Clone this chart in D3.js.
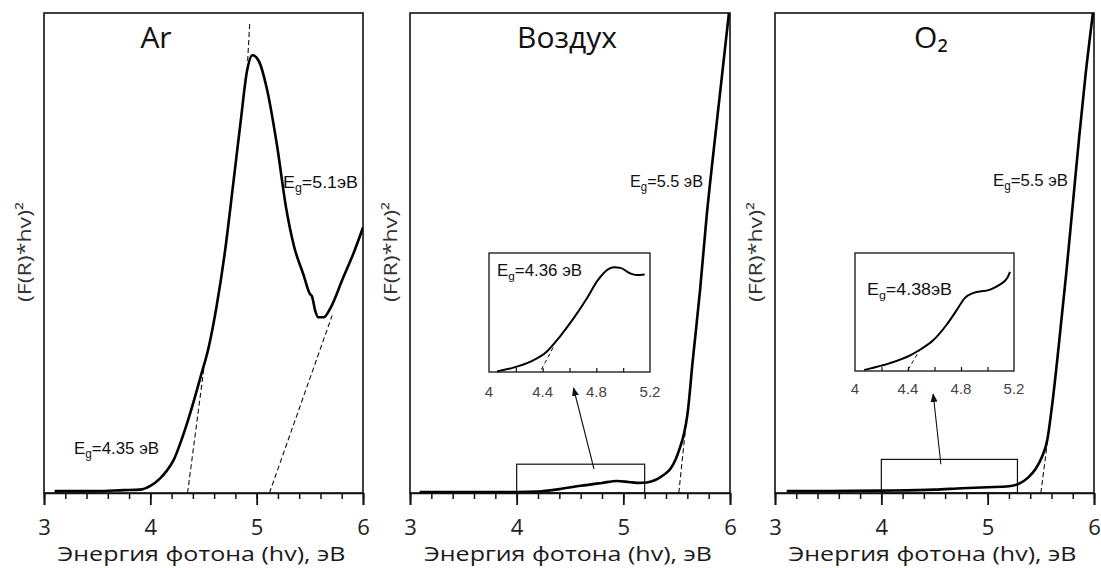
<!DOCTYPE html>
<html>
<head>
<meta charset="utf-8">
<script src="https://cdn.jsdelivr.net/npm/d3@7"></script>
<style>
body { margin: 0; background: #fff; }
svg { display: block; }
</style>
</head>
<body>
<div id="chart"></div>
<script>
// ---- data ----
const panelTitles = ['Ar', 'Воздух', 'O₂'];
const xTicks = [3, 4, 5, 6];
const xMinorTicks = d3.range(3, 6.001, 0.2);
const insetTicks = [4, 4.4, 4.8, 5.2];
const insetMinorTicks = [4.2, 4.4, 4.6, 4.8, 5.0];
const xTitle = 'Энергия фотона (hv), эВ';
const yTitle = '(F(R)*hv)²';

const arX = [3.1, 3.5, 3.75, 3.9, 4.0, 4.09, 4.15, 4.22, 4.3, 4.38, 4.47, 4.55, 4.62, 4.7, 4.78, 4.85, 4.91, 4.96, 5.02, 5.1, 5.19, 5.28, 5.35, 5.44, 5.5, 5.52, 5.55, 5.58, 5.63, 5.7, 5.81, 5.91, 6.0];
const arY = [0.004, 0.004, 0.006, 0.007, 0.015, 0.03, 0.045, 0.069, 0.115, 0.17, 0.24, 0.305, 0.385, 0.5, 0.645, 0.775, 0.88, 0.912, 0.9, 0.838, 0.726, 0.59, 0.515, 0.455, 0.415, 0.41, 0.38, 0.366, 0.366, 0.388, 0.447, 0.499, 0.553];

const airX = [3.09, 3.5, 4.0, 4.2, 4.4, 4.6, 4.8, 4.94, 5.05, 5.15, 5.22, 5.3, 5.38, 5.44, 5.49, 5.53, 5.57, 5.6, 5.65, 5.72, 5.78, 5.84, 5.91, 5.99];
const airY = [0.002, 0.002, 0.002, 0.003, 0.008, 0.015, 0.021, 0.025, 0.023, 0.021, 0.022, 0.027, 0.038, 0.05, 0.07, 0.094, 0.125, 0.162, 0.274, 0.424, 0.574, 0.70, 0.84, 1.0];

const o2X = [3.11, 3.5, 4.0, 4.5, 4.76, 5.0, 5.2, 5.3, 5.38, 5.45, 5.51, 5.56, 5.61, 5.67, 5.74, 5.8, 5.86, 5.92, 5.99];
const o2Y = [0.004, 0.004, 0.005, 0.007, 0.01, 0.012, 0.014, 0.02, 0.032, 0.05, 0.075, 0.11, 0.19, 0.31, 0.46, 0.6, 0.74, 0.87, 1.0];

const airInsetX = [4.06, 4.16, 4.31, 4.43, 4.53, 4.63, 4.73, 4.81, 4.89, 4.93, 4.98, 5.05, 5.1, 5.16];
const airInsetY = [0.005, 0.03, 0.087, 0.17, 0.30, 0.45, 0.62, 0.77, 0.865, 0.88, 0.875, 0.83, 0.815, 0.82];

const o2InsetX = [4.07, 4.11, 4.26, 4.42, 4.49, 4.59, 4.69, 4.77, 4.83, 4.89, 5.02, 5.09, 5.15, 5.17];
const o2InsetY = [0.008, 0.02, 0.065, 0.135, 0.18, 0.26, 0.39, 0.52, 0.62, 0.66, 0.69, 0.73, 0.79, 0.84];

// tangent (dashed) lines, [x, y] end points
const arTangents = [[[4.35, 0], [4.51, 0.27]], [[4.915, 0.9], [4.935, 0.98]], [[5.12, 0], [5.71, 0.37]]];
const airTangents = [[[5.52, 0], [5.6, 0.17]]];
const o2Tangents = [[[5.5, 0], [5.57, 0.12]]];
const airInsetTangent = [[4.39, 0.02], [4.48, 0.21]];
const o2InsetTangent = [[4.4, 0.01], [4.49, 0.18]];

// zoom boxes [x0, x1, yTop] and arrow start [x, y]
const airZoomBox = [4.0, 5.2, 0.06];
const o2ZoomBox = [4.0, 5.28, 0.07];
const airArrowFrom = [4.725, 0.05];
const o2ArrowFrom = [4.56, 0.06];
const airArrowTo = 4.63;
const o2ArrowTo = 4.59;

const arEg = ['5.1эВ', '4.35 эВ'];
const airEg = ['5.5 эВ', '4.36 эВ'];
const o2Eg = ['5.5 эВ', '4.38эВ'];

// ---- layout ----
const W = 1101, H = 568;
const plotTop = 13, plotBottom = 493;
const panels = [
	{ left: 44, right: 363, title: panelTitles[0], titleX: 156, x: arX, y: arY, tangents: arTangents,
		eg: [{ t: arEg[0], x: 283, y: 188, w: 75 }, { t: arEg[1], x: 74, y: 454, w: 85 }] },
	{ left: 410, right: 730, title: panelTitles[1], titleX: 567, x: airX, y: airY, tangents: airTangents,
		eg: [{ t: airEg[0], x: 630, y: 187, w: 73 }],
		inset: { left: 489, right: 650, top: 253, bottom: 372, x: airInsetX, y: airInsetY, tangent: airInsetTangent,
			eg: { t: airEg[1], x: 497, y: 276, w: 85 }, labelY: 397, box: airZoomBox, from: airArrowFrom, to: airArrowTo, toOff: 16 } },
	{ left: 775, right: 1094, title: panelTitles[2], titleX: 931, x: o2X, y: o2Y, tangents: o2Tangents,
		eg: [{ t: o2Eg[0], x: 993, y: 186, w: 75 }],
		inset: { left: 855, right: 1014, top: 253, bottom: 371, x: o2InsetX, y: o2InsetY, tangent: o2InsetTangent,
			eg: { t: o2Eg[1], x: 867, y: 295, w: 85 }, labelY: 394, box: o2ZoomBox, from: o2ArrowFrom, to: o2ArrowTo, toOff: 23 } }
];

const svg = d3.select('#chart').append('svg')
	.attr('width', W)
	.attr('height', H);

const defs = svg.append('defs');
defs.append('marker')
	.attr('id', 'arrow')
	.attr('viewBox', '0 0 10 10')
	.attr('refX', 9).attr('refY', 5)
	.attr('markerWidth', 8).attr('markerHeight', 8)
	.attr('orient', 'auto')
	.append('path')
	.attr('d', 'M0,1 L10,5 L0,9 z')
	.attr('fill', '#111');

function egLabel(g, d, size) {
	const t = g.append('text')
		.attr('x', d.x).attr('y', d.y)
		.attr('font-family', 'Liberation Sans, Arial, sans-serif')
		.attr('font-size', size)
		.attr('fill', '#111')
		.attr('textLength', d.w)
		.attr('lengthAdjust', 'spacingAndGlyphs');
	t.append('tspan').text('E');
	t.append('tspan').attr('font-size', size * 0.7).attr('dy', 4).text('g');
	t.append('tspan').attr('dy', -4).text('=' + d.t);
}

panels.forEach((p, i) => {
	const g = svg.append('g');
	const x = d3.scaleLinear().domain([3, 6]).range([p.left, p.right]);
	const y = d3.scaleLinear().domain([0, 1]).range([plotBottom, plotTop]);

	defs.append('clipPath').attr('id', 'clip' + i)
		.append('rect')
		.attr('x', p.left).attr('y', plotTop)
		.attr('width', p.right - p.left).attr('height', plotBottom - plotTop);

	// frame
	g.append('rect')
		.attr('x', p.left).attr('y', plotTop)
		.attr('width', p.right - p.left).attr('height', plotBottom - plotTop)
		.attr('fill', 'none').attr('stroke', '#111').attr('stroke-width', 1.6);

	// minor ticks
	g.append('g')
		.attr('transform', `translate(0,${plotBottom})`)
		.call(d3.axisBottom(x).tickValues(xMinorTicks).tickSize(6).tickFormat(''))
		.call(a => a.select('.domain').remove())
		.call(a => a.selectAll('line').attr('stroke', '#111').attr('stroke-width', 1.5));

	// major ticks + labels
	g.append('g')
		.attr('transform', `translate(0,${plotBottom})`)
		.call(d3.axisBottom(x).tickValues(xTicks).tickSize(12).tickPadding(14).tickFormat(d3.format('d')))
		.call(a => a.select('.domain').attr('stroke', '#111').attr('stroke-width', 1.6))
		.call(a => a.selectAll('line').attr('stroke', '#111').attr('stroke-width', 1.8))
		.call(a => a.selectAll('text')
			.attr('font-family', 'Open Sans, sans-serif')
			.attr('font-size', 22)
			.attr('fill', '#222'));

	// axis titles
	g.append('text')
		.attr('x', (p.left + p.right) / 2 - 2).attr('y', 561)
		.attr('text-anchor', 'middle')
		.attr('font-family', 'Open Sans, sans-serif')
		.attr('font-size', 20)
		.attr('fill', '#1a1a1a')
		.attr('textLength', 288)
		.attr('lengthAdjust', 'spacingAndGlyphs')
		.text(xTitle);

	g.append('text')
		.attr('transform', `translate(${p.left - 13},252) rotate(-90)`)
		.attr('text-anchor', 'middle')
		.attr('font-family', 'Open Sans, sans-serif')
		.attr('font-size', 18)
		.attr('fill', '#333')
		.attr('textLength', 100)
		.attr('lengthAdjust', 'spacingAndGlyphs')
		.text(yTitle);

	// panel title
	g.append('text')
		.attr('x', p.titleX).attr('y', 48)
		.attr('text-anchor', 'middle')
		.attr('font-family', 'Open Sans, sans-serif')
		.attr('font-size', 30)
		.attr('fill', '#111')
		.text(p.title);

	const plot = g.append('g').attr('clip-path', `url(#clip${i})`);

	// tangents
	plot.selectAll('.tan')
		.data(p.tangents)
		.join('line')
		.attr('x1', d => x(d[0][0])).attr('y1', d => y(d[0][1]))
		.attr('x2', d => x(d[1][0])).attr('y2', d => y(d[1][1]))
		.attr('stroke', '#111').attr('stroke-width', 1.1)
		.attr('stroke-dasharray', '5,3');

	// zoom box
	if (p.inset) {
		const s = p.inset;
		g.append('rect')
			.attr('x', x(s.box[0])).attr('y', y(s.box[2]))
			.attr('width', x(s.box[1]) - x(s.box[0]))
			.attr('height', y(0) - y(s.box[2]))
			.attr('fill', 'none').attr('stroke', '#111').attr('stroke-width', 1.2);
	}

	const pts = p.x.map((v, k) => [v, p.y[k]]);
	plot.append('path')
		.datum(pts)
		.attr('d', d3.line().x(d => x(d[0])).y(d => y(d[1])).curve(d3.curveMonotoneX))
		.attr('fill', 'none').attr('stroke', '#000').attr('stroke-width', 2.6);

	p.eg.forEach(d => egLabel(g, d, 17));

	if (p.inset) {
		const s = p.inset;
		const ix = d3.scaleLinear().domain([4, 5.2]).range([s.left, s.right]);
		const iy = d3.scaleLinear().domain([0, 1]).range([s.bottom, s.top]);

		g.append('line')
			.attr('x1', x(s.from[0])).attr('y1', y(s.from[1]))
			.attr('x2', ix(s.to)).attr('y2', s.bottom + s.toOff)
			.attr('stroke', '#111').attr('stroke-width', 1.1)
			.attr('marker-end', 'url(#arrow)');

		g.append('rect')
			.attr('x', s.left).attr('y', s.top)
			.attr('width', s.right - s.left).attr('height', s.bottom - s.top)
			.attr('fill', '#fff').attr('stroke', '#111').attr('stroke-width', 1.3);

		g.append('g')
			.attr('transform', `translate(0,${s.bottom})`)
			.call(d3.axisTop(ix).tickValues(insetMinorTicks).tickSize(4).tickFormat(''))
			.call(a => a.select('.domain').remove())
			.call(a => a.selectAll('line').attr('stroke', '#111').attr('stroke-width', 1.2));

		g.selectAll('.itl')
			.data(insetTicks)
			.join('text')
			.attr('x', d => ix(d)).attr('y', s.labelY)
			.attr('text-anchor', 'middle')
			.attr('font-family', 'Liberation Sans, Arial, sans-serif')
			.attr('font-size', 15)
			.attr('fill', '#444')
			.text(d => d);

		g.append('line')
			.attr('x1', ix(s.tangent[0][0])).attr('y1', iy(s.tangent[0][1]))
			.attr('x2', ix(s.tangent[1][0])).attr('y2', iy(s.tangent[1][1]))
			.attr('stroke', '#111').attr('stroke-width', 1)
			.attr('stroke-dasharray', '4,3');

		const ipts = s.x.map((v, k) => [v, s.y[k]]);
		g.append('path')
			.datum(ipts)
			.attr('d', d3.line().x(d => ix(d[0])).y(d => iy(d[1])).curve(d3.curveMonotoneX))
			.attr('fill', 'none').attr('stroke', '#000').attr('stroke-width', 2);

		egLabel(g, s.eg, 16);
	}
});
</script>
</body>
</html>
